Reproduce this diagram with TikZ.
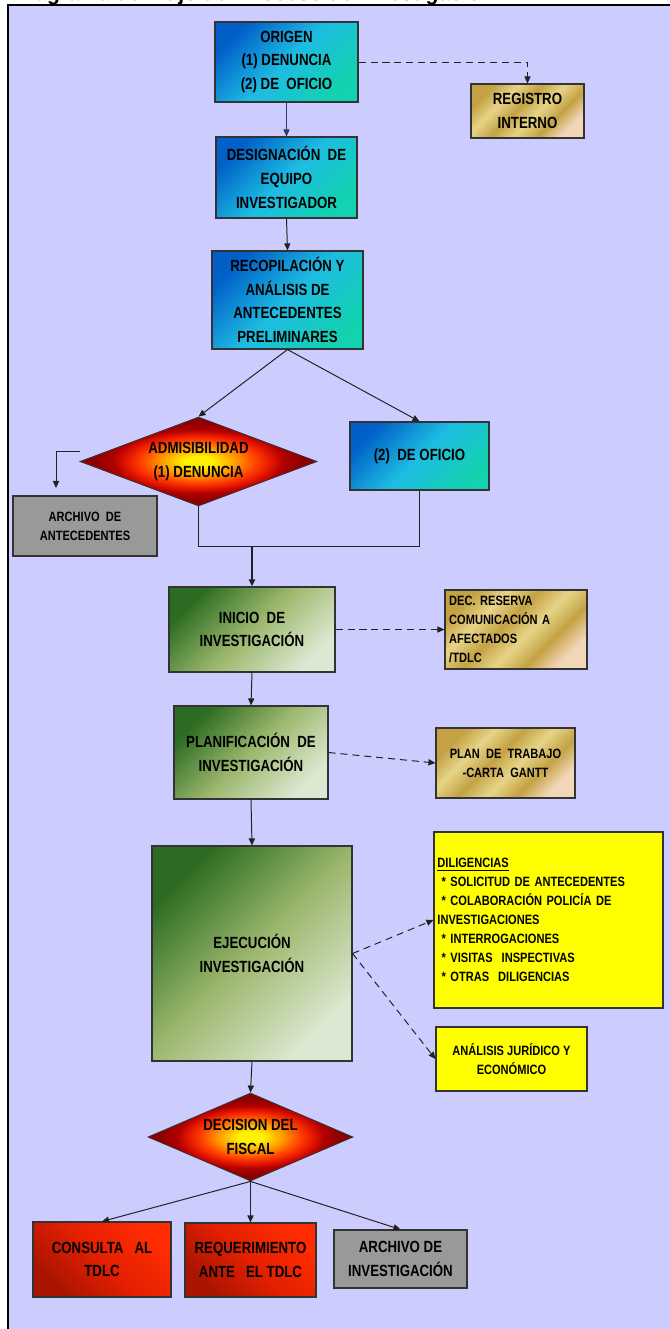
\documentclass[tikz,border=0pt]{standalone}
\usepackage{fontspec}
\setmainfont{Liberation Sans}[FakeStretch=0.82]
\newfontfamily\titfont{Liberation Sans}
\usetikzlibrary{shapes.geometric,arrows.meta}

\definecolor{lavanda}{HTML}{CCCCFF}
\definecolor{borde}{HTML}{333333}
\definecolor{linea}{HTML}{222222}
\definecolor{navy}{HTML}{2E3D5E}
\definecolor{azulA}{HTML}{0060C8}
\definecolor{azulB}{HTML}{1EBCE2}
\definecolor{azulC}{HTML}{12D2B0}
\definecolor{verdeA}{HTML}{2C6C22}
\definecolor{verdeB}{HTML}{9CB86E}
\definecolor{verdeC}{HTML}{DDE8D2}
\definecolor{oroA}{HTML}{C4A244}
\definecolor{oroB}{HTML}{E6D488}
\definecolor{oroC}{HTML}{F2D6B8}
\definecolor{rojoA}{HTML}{FF2C00}
\definecolor{rojoB}{HTML}{E42000}
\definecolor{rojoC}{HTML}{A81400}
\definecolor{grisc}{HTML}{999999}
\definecolor{amarillo}{HTML}{FFFF00}
\definecolor{fuegoA}{HTML}{FFF200}
\definecolor{fuegoB}{HTML}{FF9900}
\definecolor{fuegoC}{HTML}{FF4400}
\definecolor{fuegoD}{HTML}{E81800}
\definecolor{fuegoE}{HTML}{B00000}
\definecolor{fuegoF}{HTML}{8C0000}

\pgfdeclarehorizontalshading{oro}{100bp}{color(0bp)=(oroA); color(25bp)=(oroA); color(35bp)=(oroB); color(45bp)=(oroA); color(55bp)=(oroB); color(65bp)=(oroA); color(75bp)=(oroC); color(100bp)=(oroC)}
\pgfdeclareradialshading{fuego}{\pgfpointorigin}{color(0bp)=(fuegoA); color(3bp)=(fuegoA); color(8bp)=(fuegoB); color(12bp)=(fuegoC); color(15bp)=(fuegoD); color(18bp)=(fuegoE); color(22bp)=(fuegoF); color(50bp)=(fuegoF)}

\newcommand\fntbig{\fontsize{11.5}{16.8}\selectfont\bfseries}
\newcommand\fntsmall{\fontsize{9.6}{13.5}\selectfont\bfseries}

\begin{document}
\begin{tikzpicture}[x=0.025cm, y=-0.025cm, >={Triangle[length=5pt,width=4.4pt]},
    caja/.style={draw=borde, line width=0.8pt, align=center, font=\fntbig, inner sep=2pt},
    tam/.style 2 args={minimum width=#1*0.025cm, minimum height=#2*0.025cm},
    azul/.style={caja, top color=azulA, bottom color=azulC, middle color=azulB, shading angle=45},
    verde/.style={caja, top color=verdeA, bottom color=verdeC, middle color=verdeB, shading angle=45},
    dorado/.style={caja, shade, shading=oro, shading angle=-45, font=\fntsmall},
    rojo/.style={caja, top color=rojoA, bottom color=rojoC, middle color=rojoB, shading angle=-45},
    gris/.style={caja, fill=grisc},
    amarilla/.style={caja, fill=amarillo, font=\fntsmall},
    rombo/.style={diamond, draw=borde, line width=0.6pt, shade, shading=fuego, inner sep=0pt, align=center, font=\fntbig},
    flecha/.style={->, draw=linea, line width=0.7pt},
    punteada/.style={flecha, dash pattern=on 5pt off 3.5pt}]

    \useasboundingbox (0,0) rectangle (670,1329);
    \node[anchor=base west, inner sep=0pt, font=\titfont\fontsize{15}{18}\selectfont\bfseries] (titulo) at (14,0.6) {Diagrama de Flujo del Proceso de Investigación FNE};
    \draw[fill=lavanda, line width=1pt] (8,5) rectangle (700,1360);

    % etapa inicial
    \node[azul, tam={143}{80}] (origen) at (286.5,62) {ORIGEN\\(1) DENUNCIA\\(2) DE\ \ OFICIO};
    \node[dorado, font=\fntbig, tam={113}{54}] (registro) at (527.5,111) {REGISTRO\\INTERNO};
    \node[azul, tam={141}{81}] (designa) at (286.5,177.5) {DESIGNACIÓN\ \ DE\\EQUIPO\\INVESTIGADOR};
    \node[azul, tam={151}{98}] (recopila) at (287.5,300) {RECOPILACIÓN Y\\ANÁLISIS DE\\ANTECEDENTES\\PRELIMINARES};
    \node[rombo, aspect=2.66, tam={237}{89}] (admisible) at (198.5,461.5) {ADMISIBILIDAD\\(1) DENUNCIA};
    \node[azul, tam={139}{68}] (oficio) at (419.5,456) {(2)\ \ DE OFICIO};
    \node[gris, font=\fntsmall, tam={144}{60}] (archante) at (85,526) {ARCHIVO\ \ DE\\ANTECEDENTES};
    \coordinate (bajaarch) at (56,488);
    \coordinate (union) at (252,546);

    % investigacion
    \node[verde, tam={166}{85}] (inicio) at (252,629.5) {INICIO\ \ DE\\INVESTIGACIÓN};
    \node[dorado, align=left, inner xsep=3pt, text width=3.34cm, tam={142}{79}] (reserva) at (516,629.5) {DEC. RESERVA\\COMUNICACIÓN A\\AFECTADOS\\/TDLC};
    \node[verde, tam={154}{93}] (planifica) at (251,752.5) {PLANIFICACIÓN\ \ DE\\INVESTIGACIÓN};
    \node[dorado, tam={139}{70}] (plantrabajo) at (505.5,763) {PLAN\ \ DE\ \ TRABAJO\\-CARTA\ \ GANTT};
    \node[verde, tam={200}{215}] (ejecuta) at (252,953.5) {EJECUCIÓN\\INVESTIGACIÓN};
    \node[amarilla, align=left, text width=5.55cm, tam={229}{176}] (diligencias) at (548.5,920) {\underline{DILIGENCIAS}\\\hspace*{3pt}* SOLICITUD DE ANTECEDENTES\\\hspace*{3pt}* COLABORACIÓN POLICÍA DE\\INVESTIGACIONES\\\hspace*{3pt}* INTERROGACIONES\\\hspace*{3pt}* VISITAS\ \ INSPECTIVAS\\\hspace*{3pt}* OTRAS\ \ DILIGENCIAS};
    \node[amarilla, tam={151}{64}] (analisis) at (511.5,1059) {ANÁLISIS JURÍDICO Y\\ECONÓMICO};

    % decision
    \node[rombo, aspect=2.33, tam={205}{88}] (decision) at (250.5,1137) {DECISION DEL\\FISCAL};
    \node[rojo, tam={138}{75}] (consulta) at (102,1259.5) {CONSULTA\ \ \ AL\\TDLC};
    \node[rojo, tam={131}{74}] (requiere) at (250.5,1260) {REQUERIMIENTO\\ANTE\ \ \ EL TDLC};
    \node[gris, tam={133}{58}] (archinv) at (400.5,1259) {ARCHIVO DE\\INVESTIGACIÓN};

    \draw[flecha, draw=navy] (origen.south) -- (designa.north);
    \draw[punteada] (origen.east) -| (registro.north);
    \draw[flecha] (designa.south) -- (recopila.north);
    \draw[flecha] (recopila.south) -- (admisible.north);
    \draw[flecha] (recopila.south) -- (oficio.north);
    \draw[flecha] ([yshift=7.4pt]admisible.west) -| (bajaarch);
    \draw[draw=linea, line width=0.7pt] (admisible.south) |- (union);
    \draw[draw=linea, line width=0.7pt] (oficio.south) |- (union);
    \draw[flecha, line width=1.4pt] (union) -- (inicio.north);
    \draw[punteada] (inicio.east) -- (reserva.west);
    \draw[flecha] (inicio.south) -- (planifica.north);
    \draw[punteada] (planifica.east) -- (plantrabajo.west);
    \draw[flecha] (planifica.south) -- (ejecuta.north);
    \draw[punteada] (ejecuta.east) -- (diligencias.west);
    \draw[punteada] (ejecuta.east) -- (analisis.west);
    \draw[flecha] (ejecuta.south) -- (decision.north);
    \draw[flecha] (decision.south) -- (consulta.north);
    \draw[flecha] (decision.south) -- (requiere.north);
    \draw[flecha] (decision.south) -- (archinv.north);
\end{tikzpicture}
\end{document}
